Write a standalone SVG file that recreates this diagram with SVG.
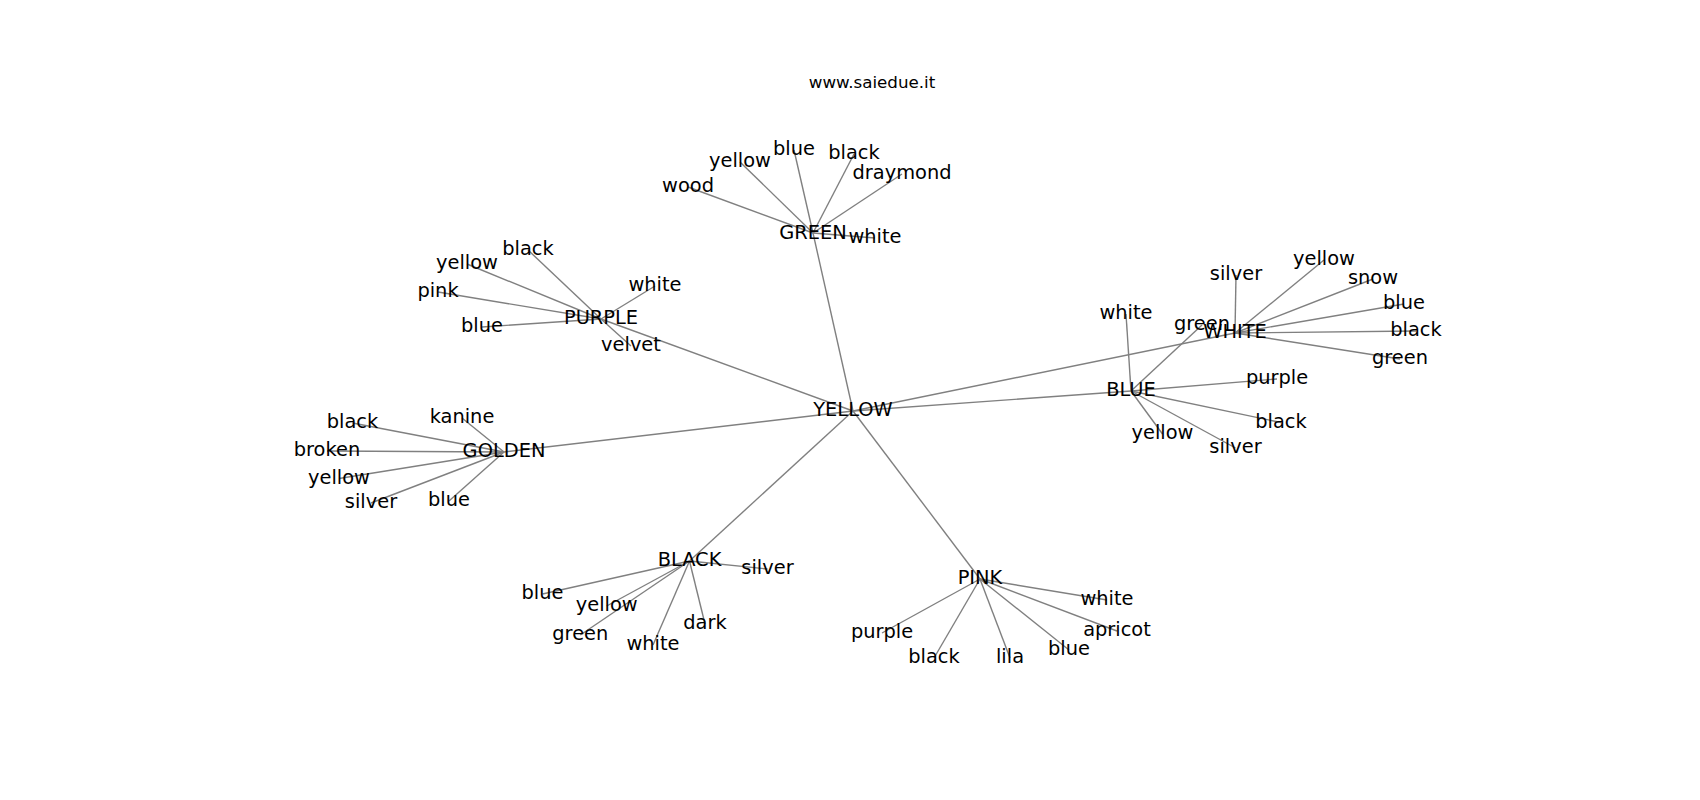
<svg xmlns="http://www.w3.org/2000/svg" width="1700" height="800" viewBox="0 0 1700 800">
<style>
.e{stroke:#808080;stroke-width:1.4;fill:none}
.t{font-family:"DejaVu Sans",sans-serif;font-size:19.4px;fill:#000;text-anchor:middle}
.title{font-family:"DejaVu Sans",sans-serif;font-size:16.7px;fill:#000;text-anchor:middle}
</style>
<rect width="1700" height="800" fill="#fff"/>
<text class="title" x="872" y="88">www.saiedue.it</text>
<g id="connectors">
<line class="e" x1="853" y1="411" x2="813" y2="233"/>
<line class="e" x1="853" y1="411" x2="601" y2="319"/>
<line class="e" x1="853" y1="411" x2="504" y2="452"/>
<line class="e" x1="853" y1="411" x2="689.5" y2="561"/>
<line class="e" x1="853" y1="411" x2="980" y2="579"/>
<line class="e" x1="853" y1="411" x2="1235" y2="333"/>
<line class="e" x1="853" y1="411" x2="1131" y2="391"/>
<line class="e" x1="813" y1="233" x2="688" y2="187"/>
<line class="e" x1="813" y1="233" x2="740" y2="162"/>
<line class="e" x1="813" y1="233" x2="794" y2="150"/>
<line class="e" x1="813" y1="233" x2="854" y2="154"/>
<line class="e" x1="813" y1="233" x2="902" y2="174"/>
<line class="e" x1="813" y1="233" x2="875" y2="238"/>
<line class="e" x1="601" y1="319" x2="528" y2="250"/>
<line class="e" x1="601" y1="319" x2="467" y2="264"/>
<line class="e" x1="601" y1="319" x2="438" y2="292"/>
<line class="e" x1="601" y1="319" x2="655" y2="286"/>
<line class="e" x1="601" y1="319" x2="482" y2="327"/>
<line class="e" x1="601" y1="319" x2="631" y2="346"/>
<line class="e" x1="504" y1="452" x2="462" y2="418"/>
<line class="e" x1="504" y1="452" x2="352.5" y2="423"/>
<line class="e" x1="504" y1="452" x2="327" y2="451"/>
<line class="e" x1="504" y1="452" x2="339" y2="478.5"/>
<line class="e" x1="504" y1="452" x2="371" y2="503"/>
<line class="e" x1="504" y1="452" x2="449" y2="501"/>
<line class="e" x1="689.5" y1="561" x2="767.5" y2="569"/>
<line class="e" x1="689.5" y1="561" x2="542.5" y2="594"/>
<line class="e" x1="689.5" y1="561" x2="606.7" y2="606"/>
<line class="e" x1="689.5" y1="561" x2="580.3" y2="635"/>
<line class="e" x1="689.5" y1="561" x2="653" y2="645"/>
<line class="e" x1="689.5" y1="561" x2="705" y2="624"/>
<line class="e" x1="980" y1="579" x2="1107" y2="600"/>
<line class="e" x1="980" y1="579" x2="1117" y2="631"/>
<line class="e" x1="980" y1="579" x2="882" y2="633"/>
<line class="e" x1="980" y1="579" x2="934" y2="658"/>
<line class="e" x1="980" y1="579" x2="1010" y2="658"/>
<line class="e" x1="980" y1="579" x2="1069" y2="650"/>
<line class="e" x1="1235" y1="333" x2="1236" y2="275"/>
<line class="e" x1="1235" y1="333" x2="1324" y2="260"/>
<line class="e" x1="1235" y1="333" x2="1373" y2="279"/>
<line class="e" x1="1235" y1="333" x2="1404" y2="304"/>
<line class="e" x1="1235" y1="333" x2="1416" y2="331"/>
<line class="e" x1="1235" y1="333" x2="1400" y2="359"/>
<line class="e" x1="1131" y1="391" x2="1126" y2="314"/>
<line class="e" x1="1131" y1="391" x2="1202" y2="325"/>
<line class="e" x1="1131" y1="391" x2="1277" y2="379"/>
<line class="e" x1="1131" y1="391" x2="1281" y2="422.5"/>
<line class="e" x1="1131" y1="391" x2="1162.5" y2="434"/>
<line class="e" x1="1131" y1="391" x2="1235.5" y2="448"/>
</g>
<g id="n-YELLOW"><text class="t" x="853" y="416.4">YELLOW</text></g>
<g id="n-GREEN"><text class="t" x="813" y="239.4">GREEN</text></g>
<g id="n-GREEN-wood"><text class="t" x="688" y="192.4">wood</text></g>
<g id="n-GREEN-yellow"><text class="t" x="740" y="167.4">yellow</text></g>
<g id="n-GREEN-blue"><text class="t" x="794" y="155.4">blue</text></g>
<g id="n-GREEN-black"><text class="t" x="854" y="159.4">black</text></g>
<g id="n-GREEN-draymond"><text class="t" x="902" y="179.4">draymond</text></g>
<g id="n-GREEN-white"><text class="t" x="875" y="243.4">white</text></g>
<g id="n-PURPLE"><text class="t" x="601" y="324.4">PURPLE</text></g>
<g id="n-PURPLE-black"><text class="t" x="528" y="255.4">black</text></g>
<g id="n-PURPLE-yellow"><text class="t" x="467" y="269.4">yellow</text></g>
<g id="n-PURPLE-pink"><text class="t" x="438" y="297.4">pink</text></g>
<g id="n-PURPLE-white"><text class="t" x="655" y="291.4">white</text></g>
<g id="n-PURPLE-blue"><text class="t" x="482" y="332.4">blue</text></g>
<g id="n-PURPLE-velvet"><text class="t" x="631" y="351.4">velvet</text></g>
<g id="n-GOLDEN"><text class="t" x="504" y="457.4">GOLDEN</text></g>
<g id="n-GOLDEN-kanine"><text class="t" x="462" y="423.4">kanine</text></g>
<g id="n-GOLDEN-black"><text class="t" x="352.5" y="428.4">black</text></g>
<g id="n-GOLDEN-broken"><text class="t" x="327" y="456.4">broken</text></g>
<g id="n-GOLDEN-yellow"><text class="t" x="339" y="483.9">yellow</text></g>
<g id="n-GOLDEN-silver"><text class="t" x="371" y="508.4">silver</text></g>
<g id="n-GOLDEN-blue"><text class="t" x="449" y="506.4">blue</text></g>
<g id="n-BLACK"><text class="t" x="689.5" y="566.4">BLACK</text></g>
<g id="n-BLACK-silver"><text class="t" x="767.5" y="574.4">silver</text></g>
<g id="n-BLACK-blue"><text class="t" x="542.5" y="599.4">blue</text></g>
<g id="n-BLACK-yellow"><text class="t" x="606.7" y="611.4">yellow</text></g>
<g id="n-BLACK-green"><text class="t" x="580.3" y="640.4">green</text></g>
<g id="n-BLACK-white"><text class="t" x="653" y="650.4">white</text></g>
<g id="n-BLACK-dark"><text class="t" x="705" y="629.4">dark</text></g>
<g id="n-PINK"><text class="t" x="980" y="584.4">PINK</text></g>
<g id="n-PINK-white"><text class="t" x="1107" y="605.4">white</text></g>
<g id="n-PINK-apricot"><text class="t" x="1117" y="636.4">apricot</text></g>
<g id="n-PINK-purple"><text class="t" x="882" y="638.4">purple</text></g>
<g id="n-PINK-black"><text class="t" x="934" y="663.4">black</text></g>
<g id="n-PINK-lila"><text class="t" x="1010" y="663.4">lila</text></g>
<g id="n-PINK-blue"><text class="t" x="1069" y="655.4">blue</text></g>
<g id="n-WHITE"><text class="t" x="1235" y="338.4">WHITE</text></g>
<g id="n-WHITE-silver"><text class="t" x="1236" y="280.4">silver</text></g>
<g id="n-WHITE-yellow"><text class="t" x="1324" y="265.4">yellow</text></g>
<g id="n-WHITE-snow"><text class="t" x="1373" y="284.4">snow</text></g>
<g id="n-WHITE-blue"><text class="t" x="1404" y="309.4">blue</text></g>
<g id="n-WHITE-black"><text class="t" x="1416" y="336.4">black</text></g>
<g id="n-WHITE-green"><text class="t" x="1400" y="364.4">green</text></g>
<g id="n-BLUE"><text class="t" x="1131" y="396.4">BLUE</text></g>
<g id="n-BLUE-white"><text class="t" x="1126" y="319.4">white</text></g>
<g id="n-BLUE-green"><text class="t" x="1202" y="330.4">green</text></g>
<g id="n-BLUE-purple"><text class="t" x="1277" y="384.4">purple</text></g>
<g id="n-BLUE-black"><text class="t" x="1281" y="427.9">black</text></g>
<g id="n-BLUE-yellow"><text class="t" x="1162.5" y="439.4">yellow</text></g>
<g id="n-BLUE-silver"><text class="t" x="1235.5" y="453.4">silver</text></g>
</svg>
